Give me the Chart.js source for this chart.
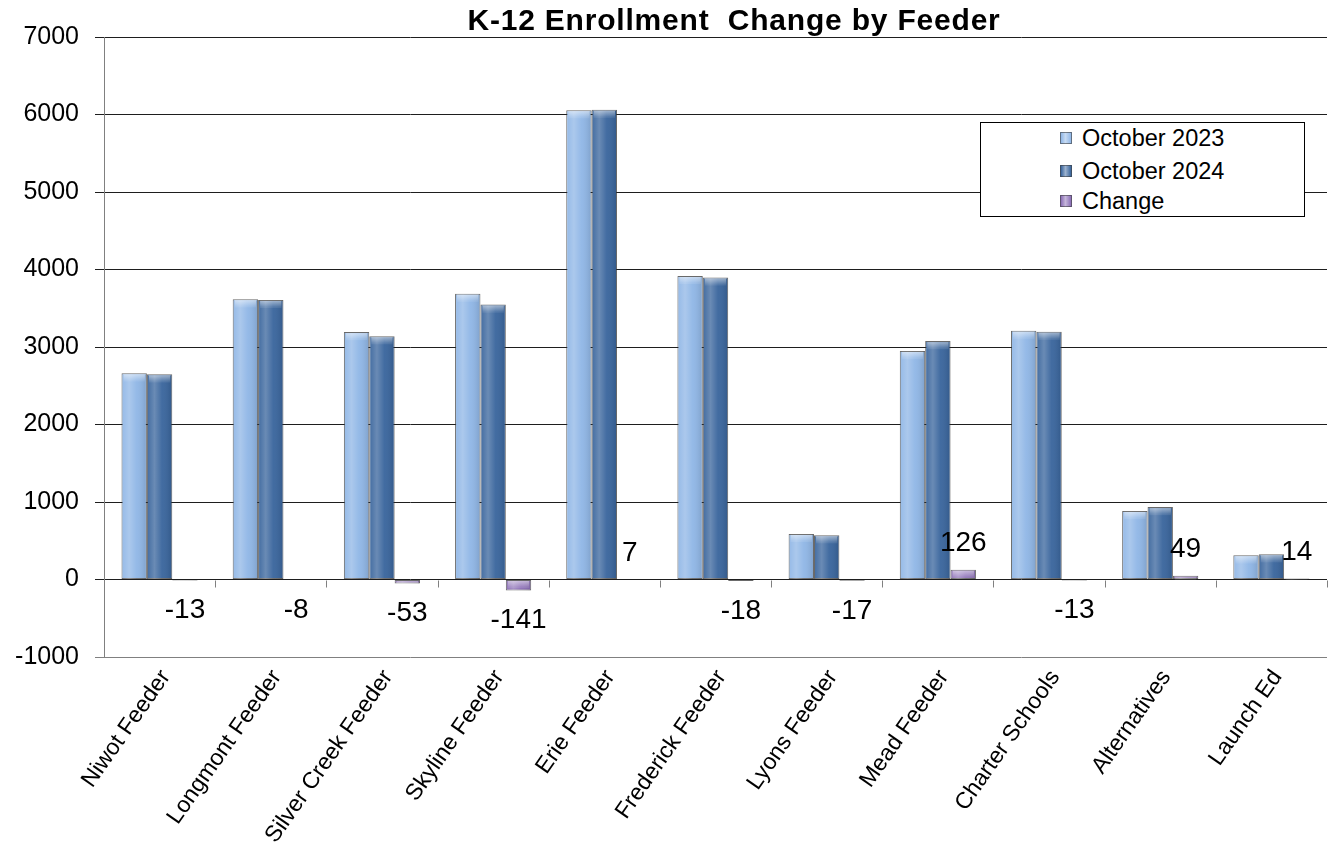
<!DOCTYPE html>
<html>
<head>
<meta charset="utf-8">
<script src="https://cdn.jsdelivr.net/npm/chart.js@4/dist/chart.umd.min.js"></script>
<style>
  html, body { margin:0; padding:0; background:#fff; }
  #wrap { position:relative; width:1330px; height:852px; }
  #legend { position:absolute; left:980px; top:122px; width:323px; height:93px; border:1px solid #000; background:#fff; box-sizing:content-box; font-family:"Liberation Sans", Arial, sans-serif; font-size:23.5px; color:#000; }
  .row { position:absolute; left:79px; height:30px; line-height:30px; white-space:nowrap; }
  .sw { display:inline-block; width:12px; height:12px; margin-right:10px; vertical-align:middle; position:relative; top:-2px; border:1px solid rgba(60,60,60,0.6); box-sizing:border-box; }
</style>
</head>
<body>
<div id="wrap">
  <canvas id="c" width="1330" height="852"></canvas>
  <div id="legend"></div>
</div>
<script>
const categories = ['Niwot Feeder','Longmont Feeder','Silver Creek Feeder','Skyline Feeder','Erie Feeder','Frederick Feeder','Lyons Feeder','Mead Feeder','Charter Schools','Alternatives','Launch Ed'];
const oct2023 = [2660, 3616, 3192, 3688, 6055, 3916, 588, 2950, 3210, 885, 312];
const oct2024 = [2647, 3608, 3139, 3547, 6062, 3898, 571, 3076, 3197, 934, 326];
const change  = [-13, -8, -53, -141, 7, -18, -17, 126, -13, 49, 14];
const seriesNames = ['October 2023', 'October 2024', 'Change'];
const yMin = -1000, yMax = 7000, yStep = 1000;
const titleText = 'K-12 Enrollment  Change by Feeder';

const colors = ['#8fb6e6', '#38649c', '#8a6db5'];
const FONT = '"Liberation Sans", Arial, sans-serif';

const sheen = {
  id: 'sheen',
  afterDatasetsDraw(chart) {
    const ctx = chart.ctx;
    chart.data.datasets.forEach((ds, di) => {
      const meta = chart.getDatasetMeta(di);
      meta.data.forEach(el => {
        const w = el.width, left = el.x - w / 2;
        const top = Math.min(el.y, el.base), bot = Math.max(el.y, el.base);
        const h = bot - top;
        if (h < 0.5) return;
        ctx.save();
        const g = ctx.createLinearGradient(left, 0, left + w, 0);
        g.addColorStop(0, 'rgba(255,255,255,0.05)');
        g.addColorStop(0.3, 'rgba(255,255,255,0.25)');
        g.addColorStop(0.6, 'rgba(255,255,255,0.05)');
        g.addColorStop(1, 'rgba(0,0,0,0.12)');
        ctx.fillStyle = g;
        ctx.fillRect(left + 1, top + 1, w - 2, h - 1);
        const capH = Math.min(7, h);
        const g2 = ctx.createLinearGradient(0, top, 0, top + capH);
        g2.addColorStop(0, 'rgba(255,255,255,0.55)');
        g2.addColorStop(1, 'rgba(255,255,255,0.1)');
        ctx.fillStyle = g2;
        ctx.fillRect(left + 2, top + 1, w - 4, capH);
        ctx.restore();
      });
    });
  }
};

// category boundary tick marks on the zero line (Excel-style axis crossing at 0)
const zeroTicks = {
  id: 'zeroTicks',
  beforeDatasetsDraw(chart) {
    const ctx = chart.ctx, xs = chart.scales.x;
    const y0 = Math.round(chart.scales.y.getPixelForValue(0)) + 0.5;
    ctx.save();
    ctx.strokeStyle = '#808080';
    ctx.lineWidth = 1;
    ctx.beginPath();
    for (let i = 0; i <= categories.length; i++) {
      const x = Math.round(xs.getPixelForValue(i - 0.5)) + 0.5;
      ctx.moveTo(x, y0);
      ctx.lineTo(x, y0 + 7);
    }
    ctx.stroke();
    ctx.restore();
  }
};

const labels = {
  id: 'changeLabels',
  afterDatasetsDraw(chart) {
    const ctx = chart.ctx;
    const meta = chart.getDatasetMeta(2);
    ctx.save();
    ctx.font = '28px ' + FONT;
    ctx.fillStyle = '#000';
    ctx.textAlign = 'center';
    ctx.textBaseline = 'middle';
    meta.data.forEach((el, i) => {
      const v = change[i];
      const y = v < 0 ? el.y + 30 : el.y - 26;
      ctx.fillText(String(v), el.x, y);
    });
    ctx.restore();
  }
};

const titlePlugin = {
  id: 'titleDraw',
  afterDraw(chart) {
    const ctx = chart.ctx;
    ctx.save();
    ctx.font = 'bold 30px ' + FONT;
    try { ctx.letterSpacing = '0.8px'; } catch (e) {}
    ctx.fillStyle = '#000';
    ctx.textAlign = 'center';
    ctx.textBaseline = 'alphabetic';
    ctx.fillText(titleText, 734, 30);
    ctx.restore();
  }
};

const yTicks = [];
for (let v = yMin; v <= yMax; v += yStep) yTicks.push(v);

const chart = new Chart(document.getElementById('c'), {
  type: 'bar',
  data: {
    labels: categories,
    datasets: [
      { label: seriesNames[0], data: oct2023, backgroundColor: colors[0] },
      { label: seriesNames[1], data: oct2024, backgroundColor: colors[1] },
      { label: seriesNames[2], data: change, backgroundColor: colors[2] }
    ]
  },
  options: {
    responsive: false,
    animation: false,
    layout: { padding: { top: 37, right: 3, left: 0, bottom: 0 } },
    datasets: {
      bar: { categoryPercentage: 0.685, barPercentage: 1.0, borderWidth: 1, borderColor: 'rgba(55,55,55,0.75)', borderSkipped: false }
    },
    plugins: { legend: { display: false }, title: { display: false }, tooltip: { enabled: false } },
    scales: {
      x: {
        type: 'category',
        position: 'bottom',
        grid: { display: false, drawTicks: false },
        border: { display: false },
        ticks: { font: { family: FONT, size: 23 }, color: '#000', maxRotation: 55, minRotation: 55, padding: 8, labelOffset: 6, autoSkip: false },
        afterFit(scale) { scale.height = 195; }
      },
      y: {
        min: yMin, max: yMax,
        afterBuildTicks(scale) { scale.ticks = yTicks.map(v => ({ value: v })); },
        ticks: { font: { family: FONT, size: 25 }, color: '#000', padding: 16, callback: v => String(v) },
        grid: {
          color: ctx => (ctx.tick && ctx.tick.value === yMin) ? '#808080' : '#1e1e1e',
          tickLength: 9,
          lineWidth: 1
        },
        border: { display: true, color: '#808080', width: 1 },
        afterFit(scale) { scale.width = 104; }
      }
    }
  },
  plugins: [zeroTicks, sheen, labels, titlePlugin]
});

const lg = document.getElementById('legend');
const rowTops = [0, 33, 63];
chart.data.datasets.forEach((ds, i) => {
  const r = document.createElement('div');
  r.className = 'row';
  r.style.top = rowTops[i] + 'px';
  const sw = document.createElement('span');
  sw.className = 'sw';
  sw.style.background = 'linear-gradient(90deg, ' + ds.backgroundColor + ' 0%, rgba(255,255,255,0.5) 45%, ' + ds.backgroundColor + ' 100%), ' + ds.backgroundColor;
  r.appendChild(sw);
  r.appendChild(document.createTextNode(ds.label));
  lg.appendChild(r);
});
</script>
</body>
</html>
